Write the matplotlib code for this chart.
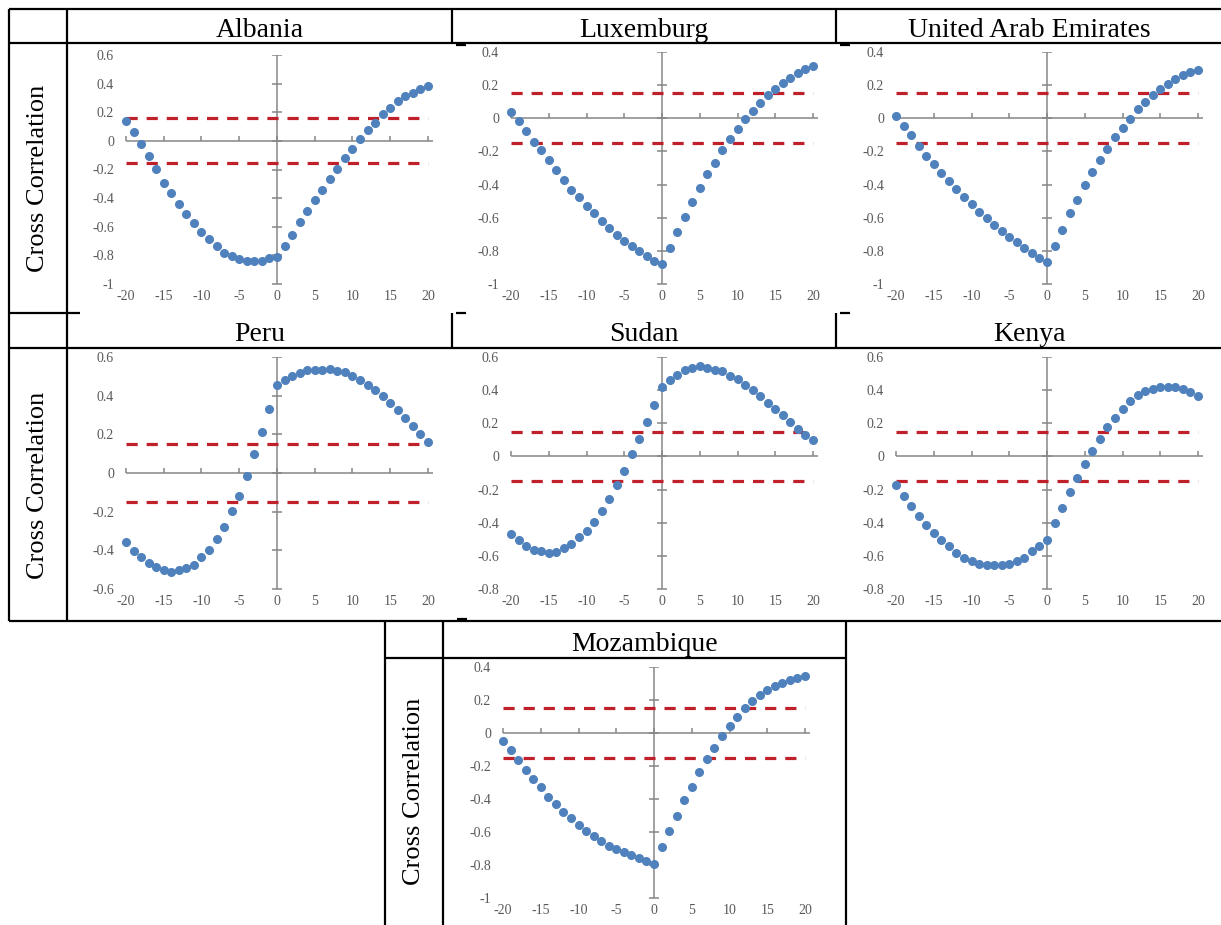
import numpy as np
import matplotlib.pyplot as plt

plt.rcParams['font.family'] = ['Liberation Serif', 'DejaVu Serif']

lags = np.arange(-20, 21)

countries = ["Albania", "Luxemburg", "United Arab Emirates",
             "Peru", "Sudan", "Kenya", "Mozambique"]

albania = [0.14, 0.063, -0.023, -0.109, -0.198, -0.291, -0.365, -0.442, -0.512, -0.577,
           -0.635, -0.688, -0.737, -0.786, -0.807, -0.826, -0.837, -0.837, -0.837, -0.821,
           -0.814, -0.737, -0.658, -0.570, -0.493, -0.414, -0.342, -0.267, -0.198, -0.121,
           -0.058, 0.012, 0.074, 0.128, 0.186, 0.233, 0.279, 0.314, 0.337, 0.36, 0.38]
luxemburg = [0.038, -0.016, -0.078, -0.143, -0.193, -0.249, -0.313, -0.373, -0.430, -0.478,
             -0.530, -0.574, -0.620, -0.665, -0.707, -0.739, -0.769, -0.799, -0.831, -0.859,
             -0.882, -0.785, -0.689, -0.594, -0.504, -0.418, -0.339, -0.269, -0.193, -0.122,
             -0.062, -0.002, 0.044, 0.092, 0.139, 0.179, 0.213, 0.243, 0.273, 0.295, 0.313]
uae = [0.012, -0.048, -0.102, -0.169, -0.225, -0.273, -0.333, -0.380, -0.428, -0.474,
       -0.518, -0.564, -0.604, -0.641, -0.681, -0.715, -0.745, -0.785, -0.815, -0.845,
       -0.869, -0.769, -0.675, -0.574, -0.494, -0.404, -0.323, -0.249, -0.183, -0.112,
       -0.058, -0.002, 0.054, 0.098, 0.139, 0.179, 0.209, 0.235, 0.259, 0.279, 0.293]
peru = [-0.357, -0.405, -0.436, -0.466, -0.488, -0.503, -0.512, -0.503, -0.491, -0.474,
        -0.436, -0.397, -0.341, -0.281, -0.195, -0.117, -0.017, 0.098, 0.210, 0.331,
        0.457, 0.483, 0.500, 0.517, 0.531, 0.534, 0.534, 0.540, 0.529, 0.521,
        0.500, 0.479, 0.453, 0.428, 0.397, 0.362, 0.328, 0.284, 0.241, 0.20, 0.16]
sudan = [-0.469, -0.503, -0.543, -0.563, -0.573, -0.584, -0.577, -0.553, -0.527, -0.489,
         -0.449, -0.398, -0.328, -0.256, -0.171, -0.085, 0.014, 0.105, 0.207, 0.312,
         0.419, 0.463, 0.493, 0.523, 0.533, 0.543, 0.533, 0.523, 0.513, 0.487,
         0.467, 0.433, 0.402, 0.362, 0.322, 0.286, 0.252, 0.205, 0.165, 0.131, 0.101]
kenya = [-0.171, -0.237, -0.302, -0.358, -0.416, -0.463, -0.507, -0.543, -0.584, -0.610,
         -0.634, -0.650, -0.658, -0.658, -0.658, -0.650, -0.630, -0.610, -0.573, -0.543,
         -0.503, -0.402, -0.312, -0.215, -0.131, -0.046, 0.030, 0.107, 0.175, 0.231,
         0.288, 0.336, 0.372, 0.392, 0.406, 0.416, 0.419, 0.419, 0.406, 0.386, 0.362]
mozambique = [-0.046, -0.103, -0.163, -0.224, -0.280, -0.329, -0.385, -0.431, -0.476, -0.516,
              -0.556, -0.591, -0.627, -0.657, -0.683, -0.704, -0.724, -0.742, -0.758, -0.778,
              -0.792, -0.688, -0.591, -0.500, -0.405, -0.325, -0.234, -0.159, -0.093, -0.018,
              0.042, 0.099, 0.149, 0.194, 0.230, 0.260, 0.286, 0.306, 0.321, 0.331, 0.345]
series = [albania, luxemburg, uae, peru, sudan, kenya, mozambique]

thresholds = [0.157, 0.15, 0.15, 0.15, 0.15, 0.15, 0.15]
y_ranges = [(-1, 0.6), (-1, 0.4), (-1, 0.4), (-0.6, 0.6), (-0.8, 0.6), (-0.8, 0.6), (-1, 0.4)]
x_ticks = [-20, -15, -10, -5, 0, 5, 10, 15, 20]

# layout in pixels (x of lag 0, y top of y-axis, y bottom of y-axis)
W, H = 1221, 925
chart_pos = [(277, 55, 284), (662, 52, 284), (1047, 52, 284),
             (277, 357, 589), (662, 357, 589), (1047, 357, 589),
             (654, 667, 898)]
header_pos = [(259.5, 37), (644, 37), (1029, 37),
              (259.5, 341), (644, 341), (1029, 341),
              (644.5, 651)]
ylabel_pos = [(38, 178), (38, 485), (414, 791)]
px_per_lag = 7.55
x_lo, x_hi = -20.3, 20.8

blue = '#4F81BD'
red = '#C0202A'
gray = '#868686'
label_gray = '#595959'

fig = plt.figure(figsize=(W / 100, H / 100), dpi=100)
bg = fig.add_axes([0, 0, 1, 1])
bg.set_xlim(0, W)
bg.set_ylim(H, 0)
bg.axis('off')


def hline(y, x0, x1):
    bg.plot([x0, x1], [y, y], color='black', lw=1.6, solid_capstyle='butt')


def vline(x, y0, y1):
    bg.plot([x, x], [y0, y1], color='black', lw=1.6, solid_capstyle='butt')


# table grid
hline(9, 9, W)
hline(43, 9, W)
hline(313, 9, 80)
hline(348, 9, W)
hline(621, 9, W)
vline(9, 9, 621)
vline(67, 9, 621)
for xc in [452, 836]:
    vline(xc, 9, 43)
    vline(xc, 313, 348)
    hline(44.5, xc + 4, xc + 14)
    hline(313, xc + 4, xc + 14)
vline(385, 621, H)
vline(443, 621, H)
vline(846, 621, H)
hline(658, 385, 846)
hline(619, 457, 467)

for name, (hx, hy) in zip(countries, header_pos):
    bg.text(hx, hy, name, ha='center', va='baseline', fontsize=20)
for lx, ly in ylabel_pos:
    bg.text(lx, ly, "Cross Correlation", ha='center', va='center', rotation=90, fontsize=19)

for vals, thr, (ylo, yhi), (x0, ytop, ybot) in zip(series, thresholds, y_ranges, chart_pos):
    left = x0 + x_lo * px_per_lag
    right = x0 + x_hi * px_per_lag
    ax = fig.add_axes([left / W, 1 - ybot / H, (right - left) / W, (ybot - ytop) / H])
    ax.set_xlim(x_lo, x_hi)
    ax.set_ylim(ylo, yhi)
    ax.patch.set_alpha(0)
    for s in ax.spines.values():
        s.set_visible(False)

    yt = np.round(np.arange(ylo, yhi + 0.01, 0.2), 1)
    ax.set_yticks(yt)
    ax.set_yticklabels(["0" if abs(v) < 1e-9 else f"{v:g}" for v in yt])
    ax.set_xticks(x_ticks)
    ax.set_xticklabels([str(v) for v in x_ticks])
    ax.tick_params(axis='y', length=0, pad=7, labelsize=10, labelcolor=label_gray)
    ax.tick_params(axis='x', length=0, pad=4.5, labelsize=10, labelcolor=label_gray)

    # axes crossing at zero
    ax.hlines(0, lags.min(), lags.max() + 0.6, color=gray, lw=1.1)
    ax.axvline(0, color=gray, lw=1.1)
    ax.plot(np.zeros(len(yt)), yt, ls='', marker='_', ms=6.5, mew=1.1, color=gray)
    ax.plot(x_ticks, np.zeros(len(x_ticks)), ls='', marker=2, ms=3.5, mew=1.1, color=gray)

    ax.hlines([thr, -thr], lags.min(), lags.max(), colors=red, lw=2.3,
              linestyles=[(0, (3.5, 2.8))])
    ax.plot(lags, vals, ls='', marker='o', ms=5.5, color=blue, mec=blue, clip_on=False, zorder=5)

fig.savefig('out.png', dpi=100)
